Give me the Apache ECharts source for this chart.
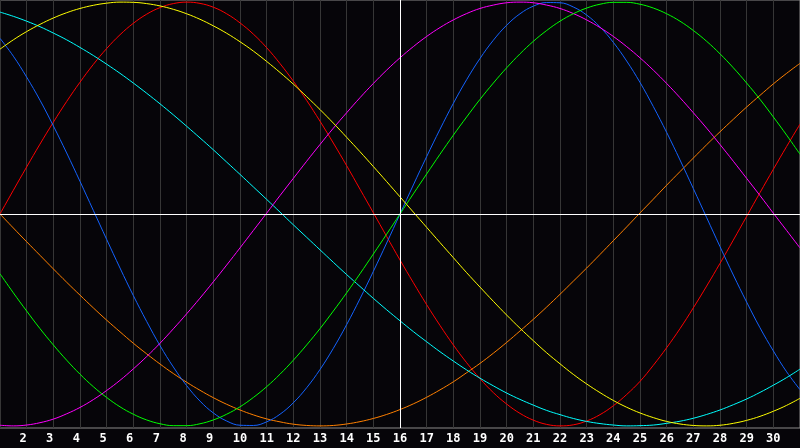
<!DOCTYPE html>
<html>
<head>
	<meta charset="utf-8" />
	<title>Sine waves</title>
	<style type="text/css">
		html, body { margin: 0; padding: 0; background: #060509; }
		#main { width: 800px; height: 448px; }
	</style>
	<script src="https://cdn.jsdelivr.net/npm/echarts@6/dist/echarts.min.js"></script>
</head>
<body>
	<div id="main"></div>
	<script type="text/javascript">
		// x positions 1..31 every half unit, labels shown for 2..30
		const xs = [1,1.5,2,2.5,3,3.5,4,4.5,5,5.5,6,6.5,7,7.5,8,8.5,9,9.5,10,10.5,11,11.5,12,12.5,13,13.5,14,14.5,15,15.5,
			16,16.5,17,17.5,18,18.5,19,19.5,20,20.5,21,21.5,22,22.5,23,23.5,24,24.5,25,25.5,26,26.5,27,27.5,28,28.5,29,29.5,30,30.5,31];

		const red = [0, 0.112, 0.222, 0.330, 0.433, 0.531, 0.622, 0.706, 0.781, 0.846, 0.900, 0.943, 0.974, 0.993, 1.000, 0.994,
			0.976, 0.945, 0.902, 0.849, 0.785, 0.710, 0.627, 0.536, 0.438, 0.335, 0.228, 0.117, 0.006, -0.106,
			-0.217, -0.324, -0.428, -0.526, -0.618, -0.702, -0.777, -0.843, -0.897, -0.941, -0.973, -0.993, -1.000, -0.995,
			-0.977, -0.947, -0.905, -0.852, -0.790, -0.714, -0.631, -0.541, -0.443, -0.340, -0.233, -0.123, -0.011, 0.101, 0.211, 0.319, 0.424];
		const orange = [0, -0.066, -0.131, -0.195, -0.259, -0.322, -0.383, -0.443, -0.501, -0.556, -0.610, -0.660, -0.708, -0.753, -0.794,
			-0.832, -0.867, -0.898, -0.925, -0.948, -0.967, -0.981, -0.992, -0.998, -1.000, -0.998, -0.991, -0.980, -0.965, -0.946,
			-0.923, -0.896, -0.865, -0.830, -0.792, -0.749, -0.705, -0.657, -0.606, -0.552, -0.497, -0.439, -0.379, -0.317, -0.255,
			-0.191, -0.126, -0.061, 0.005, 0.070, 0.136, 0.200, 0.264, 0.327, 0.388, 0.447, 0.505, 0.560, 0.614, 0.664, 0.711];
		const blue = [0.829, 0.745, 0.646, 0.537, 0.416, 0.288, 0.154, 0.017, -0.120, -0.255, -0.385, -0.507, -0.621, -0.722, -0.810,
			-0.883, -0.939, -0.977, -0.997, -0.998, -0.981, -0.945, -0.891, -0.820, -0.734, -0.634, -0.522, -0.400, -0.271, -0.137,
			0, 0.137, 0.271, 0.400, 0.522, 0.634, 0.734, 0.820, 0.891, 0.945, 0.981, 0.998, 0.997, 0.977, 0.939,
			0.883, 0.810, 0.722, 0.621, 0.507, 0.385, 0.255, 0.120, -0.017, -0.154, -0.288, -0.416, -0.537, -0.646, -0.745, -0.829];
		const cyan = [0.953, 0.933, 0.910, 0.884, 0.854, 0.822, 0.786, 0.748, 0.707, 0.664, 0.618, 0.570, 0.520, 0.468, 0.414,
			0.359, 0.303, 0.245, 0.187, 0.128, 0.069, 0.009, -0.051, -0.110, -0.169, -0.228, -0.286, -0.342, -0.398, -0.452,
			-0.504, -0.555, -0.603, -0.650, -0.694, -0.736, -0.775, -0.811, -0.845, -0.875, -0.902, -0.927, -0.947, -0.965, -0.979,
			-0.989, -0.996, -1.000, -0.999, -0.996, -0.988, -0.978, -0.964, -0.946, -0.925, -0.900, -0.873, -0.842, -0.808, -0.772, -0.732];
		const magenta = [-0.997, -1.000, -0.996, -0.985, -0.968, -0.943, -0.913, -0.876, -0.833, -0.785, -0.731, -0.673, -0.610, -0.542, -0.471,
			-0.397, -0.320, -0.241, -0.160, -0.078, 0.004, 0.087, 0.168, 0.249, 0.328, 0.405, 0.478, 0.549, 0.616, 0.679,
			0.737, 0.790, 0.838, 0.880, 0.916, 0.946, 0.970, 0.986, 0.997, 1.000, 0.997, 0.986, 0.970, 0.946, 0.916,
			0.880, 0.838, 0.790, 0.737, 0.679, 0.616, 0.549, 0.478, 0.405, 0.328, 0.249, 0.168, 0.087, 0.004, -0.078, -0.160];
		const green = [-0.282, -0.372, -0.458, -0.541, -0.618, -0.690, -0.756, -0.815, -0.866, -0.910, -0.945, -0.972, -0.990, -0.999, -0.999,
			-0.990, -0.972, -0.945, -0.910, -0.866, -0.815, -0.756, -0.690, -0.618, -0.541, -0.458, -0.372, -0.282, -0.189, -0.095,
			0, 0.095, 0.189, 0.282, 0.372, 0.458, 0.541, 0.618, 0.690, 0.756, 0.815, 0.866, 0.910, 0.945, 0.972,
			0.990, 0.999, 0.999, 0.990, 0.972, 0.945, 0.910, 0.866, 0.815, 0.756, 0.690, 0.618, 0.541, 0.458, 0.372, 0.282];
		const yellow = [0.778, 0.822, 0.861, 0.895, 0.925, 0.950, 0.970, 0.985, 0.995, 1.000, 0.999, 0.993, 0.982, 0.966, 0.945,
			0.919, 0.888, 0.853, 0.813, 0.769, 0.720, 0.668, 0.613, 0.554, 0.493, 0.429, 0.362, 0.294, 0.224, 0.153,
			0.081, 0.009, -0.063, -0.135, -0.206, -0.277, -0.345, -0.412, -0.477, -0.539, -0.598, -0.655, -0.707, -0.757, -0.802,
			-0.843, -0.880, -0.912, -0.939, -0.961, -0.979, -0.991, -0.998, -1.000, -0.997, -0.988, -0.974, -0.955, -0.931, -0.903, -0.870];

		const lines = [
			['red', red, '#ff0000'],
			['orange', orange, '#ff8000'],
			['blue', blue, '#1463ff'],
			['cyan', cyan, '#00ffff'],
			['magenta', magenta, '#ff00ff'],
			['green', green, '#00ff00'],
			['yellow', yellow, '#ffff00']
		];

		const series = lines.map(([name, vals, color]) => ({
			name: name,
			type: 'line',
			data: xs.map((x, i) => [x, vals[i]]),
			smooth: 0.4,
			symbol: 'none',
			lineStyle: { color: color, width: 1 },
			animation: false
		}));

		// white cross lines at x = 16 and y = 0
		series.push({
			type: 'line',
			data: [],
			silent: true,
			markLine: {
				silent: true,
				symbol: 'none',
				label: { show: false },
				lineStyle: { color: '#ffffff', width: 1, type: 'solid' },
				data: [{ xAxis: 16 }, { yAxis: 0 }],
				animation: false
			}
		});

		const options = {
			backgroundColor: '#060509',
			animation: false,
			grid: {
				left: 0, right: 0, top: 0, bottom: 20,
				show: true,
				borderColor: '#8a8a8a',
				borderWidth: 1
			},
			xAxis: {
				type: 'value',
				min: 1,
				max: 31,
				interval: 1,
				axisLine: { show: true, lineStyle: { color: '#8a8a8a' } },
				axisTick: { show: false },
				splitLine: { show: true, lineStyle: { color: '#363636', width: 1 } },
				axisLabel: {
					color: '#ffffff',
					fontFamily: 'DejaVu Sans Mono',
					fontWeight: 'bold',
					fontSize: 12,
					margin: 5,
					showMinLabel: false,
					showMaxLabel: false,
					// single digits sit in a two character slot, like the original
					formatter: (v) => (v < 10 ? v + ' ' : '' + v)
				}
			},
			yAxis: {
				type: 'value',
				min: -1.01,
				max: 1.01,
				axisLine: { show: false },
				axisTick: { show: false },
				axisLabel: { show: false },
				splitLine: { show: false }
			},
			series: series
		};

		const myChart = echarts.init(document.getElementById('main'));
		myChart.setOption(options);
	</script>
</body>
</html>
